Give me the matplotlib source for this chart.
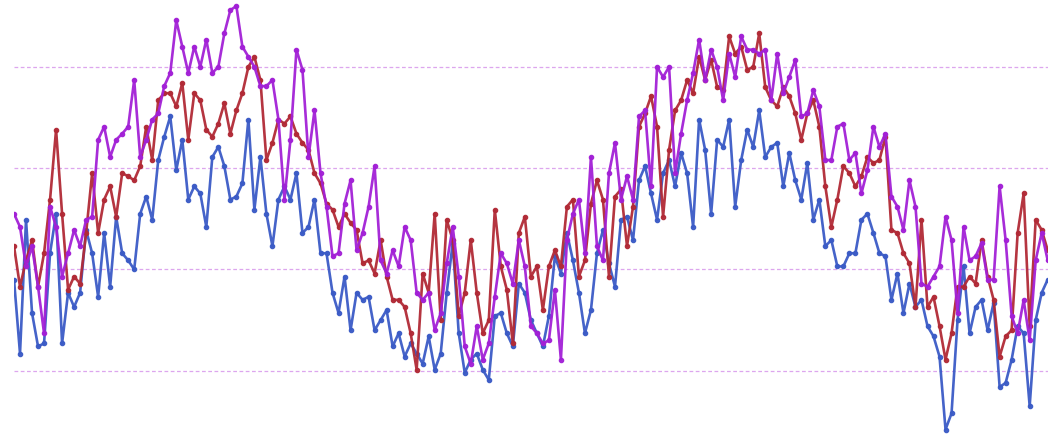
import numpy as np
import matplotlib
matplotlib.use("Agg")
import matplotlib.pyplot as plt

# three noisy series (gridlines at 10/20/30/40)
blue = [19.0, 11.7, 24.9, 15.7, 12.4, 12.7, 21.6, 25.5, 12.7, 17.7, 16.3, 17.7, 23.9, 21.6, 17.3, 23.6, 18.3, 25.2, 21.6, 20.9,
        20.0, 25.5, 27.2, 24.9, 30.8, 33.1, 35.1, 29.8, 32.8, 26.9, 28.2, 27.5, 24.2, 31.1, 32.1, 30.2, 26.9, 27.2, 28.5, 34.8, 25.9, 31.1,
        25.5, 22.3, 26.9, 28.2, 26.9, 29.5, 23.6, 24.2, 26.9, 21.6, 21.6, 17.7, 15.7, 19.3, 14.0, 17.7, 17.0, 17.3, 14.0, 15.0, 16.0, 12.4,
        13.7, 11.4, 12.7, 11.7, 10.7, 13.4, 10.1, 11.7, 17.7, 22.6, 13.7, 9.8, 11.1, 11.7, 10.1, 9.1, 15.4, 15.7, 13.7, 12.4, 18.6,
        17.7, 15.0, 13.7, 12.4, 15.4, 21.3, 19.6, 23.6, 20.9, 17.7, 13.7, 16.0, 21.6, 23.9, 20.6, 18.3, 24.9, 25.2, 22.9, 28.8, 30.2, 27.5,
        24.9, 29.5, 30.8, 28.2, 31.5, 29.5, 24.2, 34.8, 31.8, 25.5, 32.8, 32.1, 34.8, 26.2, 30.8, 33.8, 32.1, 35.7, 31.1, 32.1, 32.5, 28.2,
        31.5, 28.8, 26.9, 30.5, 24.9, 26.9, 22.3, 22.9, 20.3, 20.3, 21.6, 21.6, 24.9, 25.5, 23.6, 21.6, 21.3, 17.0, 19.6, 15.7, 18.6, 16.3,
        17.0, 14.4, 13.4, 11.4, 4.2, 5.8, 15.0, 20.3, 13.7, 16.3, 17.0, 14.0, 16.7, 8.4, 8.8, 11.1, 14.4, 13.7, 6.5, 15.0, 17.7, 19.0]

red = [22.3, 18.3, 20.9, 22.9, 18.3, 21.6, 26.9, 33.8, 25.5, 18.0, 19.3, 18.6, 23.6, 29.5, 23.6, 26.9, 28.2, 25.2, 29.5, 29.2,
       28.8, 30.2, 34.1, 30.8, 36.7, 37.4, 37.4, 36.1, 38.4, 32.8, 37.4, 36.7, 33.8, 33.1, 34.4, 36.4, 33.4, 35.7, 37.4, 40.0, 41.0, 38.7,
       30.8, 32.5, 34.8, 34.4, 35.1, 33.4, 32.5, 31.8, 29.5, 28.5, 26.5, 25.9, 24.2, 25.5, 24.6, 23.9, 20.6, 20.9, 19.6, 22.9, 19.3, 17.0,
       17.0, 16.3, 13.7, 10.1, 19.6, 17.7, 25.5, 15.0, 24.9, 22.9, 15.4, 17.7, 22.9, 17.7, 13.7, 15.0, 25.9, 20.3, 18.0, 12.7, 23.6,
       25.2, 19.3, 20.3, 16.0, 20.3, 21.9, 20.3, 26.2, 26.9, 19.3, 20.9, 26.5, 28.8, 26.9, 19.3, 27.2, 27.9, 22.3, 26.2, 34.1, 35.4, 37.1,
       34.1, 25.2, 31.8, 35.7, 36.7, 38.7, 37.4, 41.0, 38.7, 40.7, 38.0, 37.7, 43.0, 41.3, 42.0, 39.7, 40.0, 43.3, 38.0, 36.7, 36.1, 38.0,
       37.1, 35.4, 32.8, 35.4, 36.7, 34.1, 28.2, 24.2, 26.9, 30.2, 29.5, 28.2, 29.2, 31.1, 30.5, 30.8, 33.1, 23.9, 23.6, 21.6, 20.6, 16.3,
       24.9, 16.3, 17.3, 14.4, 11.1, 13.7, 18.3, 18.3, 19.3, 18.6, 22.9, 19.3, 17.0, 11.4, 13.4, 14.0, 23.6, 27.5, 14.4, 24.9, 23.9, 21.9]

purple = [25.5, 24.2, 20.3, 22.3, 18.3, 13.7, 26.2, 24.2, 19.3, 21.6, 23.9, 22.3, 24.9, 25.2, 32.8, 34.1, 31.1, 32.8, 33.4, 34.1,
          38.7, 31.1, 32.8, 34.8, 35.4, 38.1, 39.4, 44.6, 42.0, 39.4, 42.0, 40.0, 42.7, 39.4, 40.0, 43.3, 45.6, 46.0, 42.0, 41.0, 40.0, 38.1,
          38.1, 38.7, 34.8, 26.9, 32.8, 41.7, 39.7, 31.1, 35.7, 29.5, 26.2, 21.3, 21.6, 26.5, 28.8, 21.9, 23.6, 26.2, 30.2, 20.9, 19.6, 21.9,
          20.3, 24.2, 22.9, 17.7, 17.0, 17.7, 14.0, 15.7, 20.6, 24.2, 19.3, 12.4, 10.7, 14.4, 11.1, 12.7, 17.3, 21.6, 20.6, 18.6, 22.9,
          20.3, 14.4, 13.7, 12.7, 13.0, 18.0, 11.1, 22.9, 25.5, 26.9, 21.6, 31.1, 22.3, 20.9, 29.5, 32.5, 26.9, 29.2, 26.9, 35.1, 35.7, 28.2,
          40.0, 39.0, 40.0, 29.5, 33.4, 36.7, 39.4, 42.7, 38.7, 41.7, 40.0, 36.7, 41.3, 39.0, 43.0, 41.7, 41.7, 41.3, 41.7, 36.7, 41.3, 37.4,
          39.0, 40.7, 35.1, 35.4, 37.7, 36.1, 30.8, 30.8, 34.1, 34.4, 30.8, 31.5, 27.5, 29.8, 34.1, 32.1, 33.4, 27.2, 26.2, 23.9, 28.8, 26.2,
          18.6, 18.3, 19.3, 20.3, 25.2, 22.9, 15.7, 24.2, 20.9, 21.3, 22.6, 19.0, 19.0, 28.2, 22.9, 15.4, 13.7, 17.0, 13.0, 20.9, 23.6, 20.9]

grid_levels = [10, 20, 30, 40]

fig = plt.figure(figsize=(10.48, 4.42), dpi=100)
ax = fig.add_axes([14 / 1048, 0, 1034 / 1048, 1])

x = np.arange(len(blue))
ax.plot(x, blue, color="#3b5bc6", lw=1.9, marker="o", ms=3.0, alpha=0.95, zorder=3)
ax.plot(x, red, color="#b12a36", lw=1.9, marker="o", ms=3.0, alpha=0.95, zorder=4)
ax.plot(x, purple, color="#a220d6", lw=1.9, marker="o", ms=3.0, alpha=0.95, zorder=5)

ax.set_xlim(0, len(blue) - 1 + 0.05)
ax.set_ylim(46.6 - 442 / 10.13, 46.6)
ax.set_yticks(grid_levels)
ax.grid(axis="y", color="#dda6ee", lw=0.9, ls=(0, (3, 2)), zorder=0)
ax.tick_params(length=0, labelleft=False, labelbottom=False)
for s in ax.spines.values():
    s.set_visible(False)

fig.savefig("out.png", dpi=100)
